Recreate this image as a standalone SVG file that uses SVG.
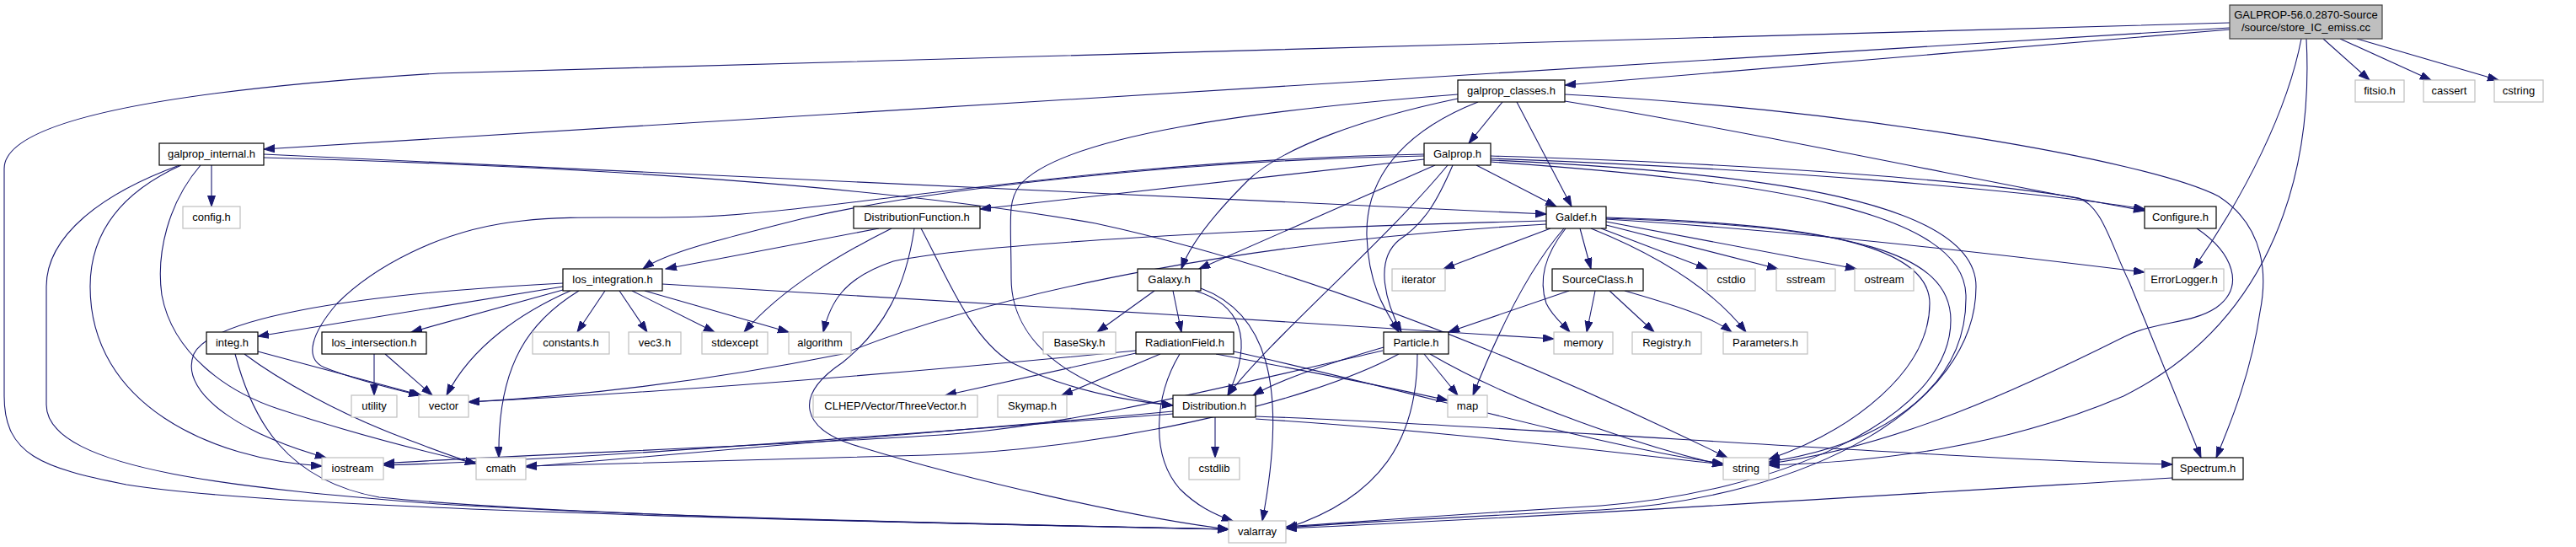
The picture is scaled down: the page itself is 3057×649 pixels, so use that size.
<svg xmlns="http://www.w3.org/2000/svg" width="3057" height="649" viewBox="0 0 3057 649">
<defs>
<style>
.e{fill:none;stroke:#191970;stroke-width:1.1;marker-end:url(#a)}
.n rect{fill:#fff;stroke:#000;stroke-width:1.2}
.u rect{fill:#fff;stroke:#bfbfbf;stroke-width:1.2}
.r rect{fill:#bfbfbf;stroke:#404040;stroke-width:1.2}
text{font-family:"Liberation Sans",Arial,sans-serif;font-size:13px;text-anchor:middle;fill:#000}
</style>
<marker id="a" markerUnits="userSpaceOnUse" markerWidth="14" markerHeight="10" refX="13" refY="4.5" orient="auto"><path d="M0,0L13,4.5L0,9z" fill="#191970" stroke="#191970" stroke-width="1"/></marker>
</defs>
<rect width="3057" height="649" fill="#fff"/>
<g id="edges">
<path class="e" d="M2646,35 L1857,101"/>
<path class="e" d="M2646,33 L313,177"/>
<path class="e" d="M2646,27 L520,87 C150,110 5,150 5,200 L5,470 C5,540 50,555 150,575 C300,600 800,615 1458,628"/>
<path class="e" d="M2731,46 C2715,130 2665,230 2603,319"/>
<path class="e" d="M2737,46 C2745,200 2700,380 2520,470 C2380,530 2230,548 2099,552"/>
<path class="e" d="M2757,46 L2812,95"/>
<path class="e" d="M2777,46 L2885,95"/>
<path class="e" d="M2797,46 L2965,95"/>
<path class="e" d="M1783,121 L1743,170"/>
<path class="e" d="M1800,121 L1865,245"/>
<path class="e" d="M1857,120 C2100,160 2400,225 2545,250"/>
<path class="e" d="M1857,112 C2200,130 2550,190 2633,233 C2690,270 2690,330 2682,370 C2672,440 2648,500 2630,543"/>
<path class="e" d="M1730,117 C1620,140 1520,175 1480,215 C1440,255 1412,290 1402,319"/>
<path class="e" d="M1754,121 C1680,150 1620,200 1622,280 C1624,340 1645,370 1660,394"/>
<path class="e" d="M1730,112 C1500,130 1260,160 1210,220 C1195,240 1200,260 1200,330 C1200,420 1300,470 1392,481"/>
<path class="e" d="M251,196 L251,245"/>
<path class="e" d="M313,183 C800,205 1400,235 1835,254"/>
<path class="e" d="M313,187 C800,200 1100,230 1300,265 C1600,330 1900,470 2050,543"/>
<path class="e" d="M213,196 C120,230 55,280 55,340 L55,480 C55,560 300,580 520,598 C800,615 1200,622 1458,628"/>
<path class="e" d="M215,196 C140,230 107,280 107,340 C107,480 250,545 382,553"/>
<path class="e" d="M238,196 C200,240 185,300 192,350 C205,420 270,465 330,485 C420,515 500,535 565,550"/>
<path class="e" d="M1752,196 L1847,245"/>
<path class="e" d="M1690,189 L1163,248"/>
<path class="e" d="M1690,185 C1400,190 1100,225 950,260 C850,285 790,300 763,319"/>
<path class="e" d="M1690,183 C1300,190 1000,250 833,257 C750,260 680,255 620,262 C520,272 440,320 400,360 C370,395 360,425 385,436 C420,450 460,460 498,469"/>
<path class="e" d="M1703,196 L1423,319"/>
<path class="e" d="M1724,196 C1705,240 1690,265 1660,285 C1630,310 1645,360 1663,394"/>
<path class="e" d="M1718,196 C1640,290 1510,400 1457,469"/>
<path class="e" d="M1769,188 C2100,200 2400,225 2545,248"/>
<path class="e" d="M1769,185 C2100,195 2350,215 2467,235 C2495,245 2505,290 2527,335 L2612,543"/>
<path class="e" d="M1769,192 C2100,215 2330,250 2333,350 C2335,450 2250,525 2099,548"/>
<path class="e" d="M1769,190 C2100,205 2345,240 2345,340 C2345,480 2150,590 1900,605 C1700,615 1600,620 1526,626"/>
<path class="e" d="M1840,271 L1713,319"/>
<path class="e" d="M1875,271 L1888,319"/>
<path class="e" d="M1858,271 C1835,300 1825,330 1835,360 C1842,375 1855,385 1863,394"/>
<path class="e" d="M1856,271 C1835,295 1795,350 1748,469"/>
<path class="e" d="M1900,271 L2026,319"/>
<path class="e" d="M1906,267 L2110,319"/>
<path class="e" d="M1906,263 L2203,319"/>
<path class="e" d="M1906,260 C2150,275 2400,305 2545,323"/>
<path class="e" d="M1888,271 C1960,300 2030,340 2072,394"/>
<path class="e" d="M1906,258 C2150,265 2290,290 2290,360 C2290,440 2200,510 2099,545"/>
<path class="e" d="M1906,259 C2200,268 2315,300 2315,380 C2315,500 2100,585 1900,600 C1700,612 1600,620 1526,625"/>
<path class="e" d="M1835,262 C1500,270 1150,290 1060,310 C1000,330 985,360 977,394"/>
<path class="e" d="M1835,266 C1500,285 1200,340 1000,420 C800,460 650,472 556,477"/>
<path class="e" d="M1043,271 L790,319"/>
<path class="e" d="M1058,271 C1000,300 930,340 883,394"/>
<path class="e" d="M1085,271 C1075,340 1050,390 1000,430 C940,470 950,510 1020,530 C1150,570 1350,615 1458,628"/>
<path class="e" d="M1093,271 C1120,320 1150,400 1200,430 C1260,460 1330,475 1392,481"/>
<path class="e" d="M786,337 C1100,355 1500,380 1844,402"/>
<path class="e" d="M668,336 C400,350 250,380 230,420 C210,470 300,520 387,543"/>
<path class="e" d="M668,340 L306,399"/>
<path class="e" d="M668,344 L488,394"/>
<path class="e" d="M687,345 C630,380 590,430 592,543"/>
<path class="e" d="M677,345 C620,370 560,410 530,469"/>
<path class="e" d="M718,345 L685,394"/>
<path class="e" d="M735,345 L768,394"/>
<path class="e" d="M750,345 L848,394"/>
<path class="e" d="M765,345 L936,394"/>
<path class="e" d="M306,417 L500,469"/>
<path class="e" d="M290,420 C330,450 400,490 480,520 C520,535 545,545 565,550"/>
<path class="e" d="M279,420 C300,500 340,570 450,590 C700,615 1200,622 1458,628"/>
<path class="e" d="M444,420 L444,469"/>
<path class="e" d="M457,420 L513,469"/>
<path class="e" d="M1370,345 L1302,394"/>
<path class="e" d="M1392,345 L1402,394"/>
<path class="e" d="M1418,345 C1470,360 1490,400 1457,469"/>
<path class="e" d="M1425,342 C1500,370 1530,450 1498,618"/>
<path class="e" d="M1348,419 L1122,469"/>
<path class="e" d="M1377,420 L1260,469"/>
<path class="e" d="M1348,416 C1100,440 800,465 556,477"/>
<path class="e" d="M1400,420 C1370,470 1365,540 1400,580 C1420,600 1440,610 1463,618"/>
<path class="e" d="M1443,420 C1550,440 1650,460 1718,475"/>
<path class="e" d="M1464,417 C1700,470 1900,530 2045,550"/>
<path class="e" d="M1690,420 L1730,469"/>
<path class="e" d="M1697,420 C1800,480 1950,530 2045,552"/>
<path class="e" d="M1682,420 C1682,520 1640,590 1526,627"/>
<path class="e" d="M1642,412 C1580,430 1520,450 1487,469"/>
<path class="e" d="M1660,420 C1550,480 1300,535 1100,540 C900,545 700,550 624,553"/>
<path class="e" d="M1641,416 C1450,460 1250,510 1100,517 C900,530 600,540 455,550"/>
<path class="e" d="M1442,495 L1442,543"/>
<path class="e" d="M1392,488 C1100,515 800,540 624,554"/>
<path class="e" d="M1392,491 C1000,520 700,545 455,552"/>
<path class="e" d="M1490,497 C1700,510 1900,535 2045,551"/>
<path class="e" d="M1490,494 C1800,505 2300,545 2578,551"/>
<path class="e" d="M1862,345 L1719,394"/>
<path class="e" d="M1893,345 L1883,394"/>
<path class="e" d="M1910,345 L1963,394"/>
<path class="e" d="M1928,345 C1980,360 2030,375 2055,394"/>
<path class="e" d="M2607,271 C2650,300 2665,340 2630,365 C2600,385 2560,380 2520,400 C2400,460 2250,530 2099,550"/>
<path class="e" d="M2578,567 C2200,590 1800,615 1526,627"/>
</g>
<g id="root" class="r"><rect x="2646" y="6" width="181" height="40"/><text x="2736.5" y="22">GALPROP-56.0.2870-Source</text><text x="2736.5" y="37">/source/store_IC_emiss.cc</text></g>
<g id="galprop_classes" class="n"><rect x="1730" y="95" width="127" height="26"/><text x="1793.5" y="112">galprop_classes.h</text></g>
<g id="fitsio" class="u"><rect x="2795" y="95" width="58" height="26"/><text x="2824" y="112">fitsio.h</text></g>
<g id="cassert" class="u"><rect x="2876" y="95" width="61" height="26"/><text x="2906.5" y="112">cassert</text></g>
<g id="cstring" class="u"><rect x="2960" y="95" width="58" height="26"/><text x="2989" y="112">cstring</text></g>
<g id="galprop_internal" class="n"><rect x="189" y="170" width="124" height="26"/><text x="251" y="187">galprop_internal.h</text></g>
<g id="Galprop" class="n"><rect x="1690" y="170" width="79" height="26"/><text x="1729.5" y="187">Galprop.h</text></g>
<g id="config" class="u"><rect x="217" y="245" width="68" height="26"/><text x="251" y="262">config.h</text></g>
<g id="DistributionFunction" class="n"><rect x="1013" y="245" width="150" height="26"/><text x="1088" y="262">DistributionFunction.h</text></g>
<g id="Galdef" class="n"><rect x="1835" y="245" width="71" height="26"/><text x="1870.5" y="262">Galdef.h</text></g>
<g id="Configure" class="n"><rect x="2545" y="245" width="85" height="26"/><text x="2587.5" y="262">Configure.h</text></g>
<g id="los_integration" class="n"><rect x="668" y="319" width="118" height="26"/><text x="727" y="336">los_integration.h</text></g>
<g id="Galaxy" class="n"><rect x="1350" y="319" width="75" height="26"/><text x="1387.5" y="336">Galaxy.h</text></g>
<g id="iterator" class="u"><rect x="1652" y="319" width="63" height="26"/><text x="1683.5" y="336">iterator</text></g>
<g id="SourceClass" class="n"><rect x="1842" y="319" width="108" height="26"/><text x="1896" y="336">SourceClass.h</text></g>
<g id="cstdio" class="u"><rect x="2026" y="319" width="57" height="26"/><text x="2054.5" y="336">cstdio</text></g>
<g id="sstream" class="u"><rect x="2108" y="319" width="70" height="26"/><text x="2143" y="336">sstream</text></g>
<g id="ostream" class="u"><rect x="2201" y="319" width="70" height="26"/><text x="2236" y="336">ostream</text></g>
<g id="ErrorLogger" class="u"><rect x="2545" y="319" width="94" height="26"/><text x="2592" y="336">ErrorLogger.h</text></g>
<g id="integ" class="n"><rect x="245" y="394" width="61" height="26"/><text x="275.5" y="411">integ.h</text></g>
<g id="los_intersection" class="n"><rect x="382" y="394" width="124" height="26"/><text x="444" y="411">los_intersection.h</text></g>
<g id="constants" class="u"><rect x="632" y="394" width="91" height="26"/><text x="677.5" y="411">constants.h</text></g>
<g id="vec3" class="u"><rect x="746" y="394" width="62" height="26"/><text x="777" y="411">vec3.h</text></g>
<g id="stdexcept" class="u"><rect x="833" y="394" width="78" height="26"/><text x="872" y="411">stdexcept</text></g>
<g id="algorithm" class="u"><rect x="936" y="394" width="74" height="26"/><text x="973" y="411">algorithm</text></g>
<g id="BaseSky" class="u"><rect x="1238" y="394" width="86" height="26"/><text x="1281" y="411">BaseSky.h</text></g>
<g id="RadiationField" class="n"><rect x="1348" y="394" width="116" height="26"/><text x="1406" y="411">RadiationField.h</text></g>
<g id="Particle" class="n"><rect x="1642" y="394" width="77" height="26"/><text x="1680.5" y="411">Particle.h</text></g>
<g id="memory" class="u"><rect x="1844" y="394" width="70" height="26"/><text x="1879" y="411">memory</text></g>
<g id="Registry" class="u"><rect x="1937" y="394" width="82" height="26"/><text x="1978" y="411">Registry.h</text></g>
<g id="Parameters" class="u"><rect x="2045" y="394" width="100" height="26"/><text x="2095" y="411">Parameters.h</text></g>
<g id="utility" class="u"><rect x="417" y="469" width="54" height="26"/><text x="444" y="486">utility</text></g>
<g id="vector" class="u"><rect x="497" y="469" width="59" height="26"/><text x="526.5" y="486">vector</text></g>
<g id="ThreeVector" class="u"><rect x="965" y="469" width="195" height="26"/><text x="1062.5" y="486">CLHEP/Vector/ThreeVector.h</text></g>
<g id="Skymap" class="u"><rect x="1184" y="469" width="82" height="26"/><text x="1225" y="486">Skymap.h</text></g>
<g id="Distribution" class="n"><rect x="1392" y="469" width="98" height="26"/><text x="1441" y="486">Distribution.h</text></g>
<g id="map" class="u"><rect x="1718" y="469" width="47" height="26"/><text x="1741.5" y="486">map</text></g>
<g id="iostream" class="u"><rect x="382" y="543" width="73" height="26"/><text x="418.5" y="560">iostream</text></g>
<g id="cmath" class="u"><rect x="565" y="543" width="59" height="26"/><text x="594.5" y="560">cmath</text></g>
<g id="cstdlib" class="u"><rect x="1411" y="543" width="60" height="26"/><text x="1441" y="560">cstdlib</text></g>
<g id="string" class="u"><rect x="2045" y="543" width="54" height="26"/><text x="2072" y="560">string</text></g>
<g id="Spectrum" class="n"><rect x="2578" y="543" width="84" height="26"/><text x="2620" y="560">Spectrum.h</text></g>
<g id="valarray" class="u"><rect x="1458" y="618" width="68" height="26"/><text x="1492" y="635">valarray</text></g>
</svg>
